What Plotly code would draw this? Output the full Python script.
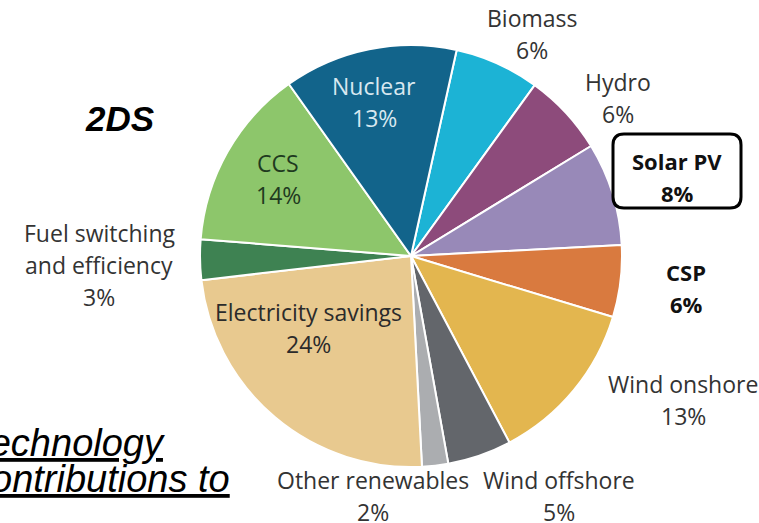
import plotly.graph_objects as go

W, H = 759, 523

# Datos (orden horario desde Biomass)
labels = ["Biomass", "Hydro", "Solar PV", "CSP", "Wind onshore", "Wind offshore",
          "Other renewables", "Electricity savings", "Fuel switching and efficiency",
          "CCS", "Nuclear"]
values = [6.5, 6.3, 7.9, 5.5, 12.6, 4.9, 2.0, 24.0, 3.1, 13.9, 13.3]
shown_pct = ["6%", "6%", "8%", "6%", "13%", "5%", "2%", "24%", "3%", "14%", "13%"]
colors = ["#1cb3d5", "#8d4b7b", "#9889b8", "#d97a3f", "#e3b64f", "#63666b",
          "#abadb0", "#e8c98f", "#3e8252", "#8dc66b", "#12648b"]

# Posición de las etiquetas (px) y estilo
label_pos = {
    "Biomass": (532, 18, "#333333", False),
    "Hydro": (618, 82, "#333333", False),
    "Solar PV": (677, 161, "#111111", True),
    "CSP": (686, 272, "#111111", True),
    "Wind onshore": (683, 384, "#333333", False),
    "Wind offshore": (559, 480, "#333333", False),
    "Other renewables": (373, 480, "#333333", False),
    "Electricity savings": (308, 312, "#2b2b2b", False),
    "Fuel switching and efficiency": (99, 233, "#333333", False),
    "CCS": (278, 163, "#1f3a1f", False),
    "Nuclear": (374, 86, "#d8e8f0", False),
}
LINE = 32
FONT = "Open Sans, Noto Sans, sans-serif"


def px(x):
    return x / W


def py(y):
    return 1 - y / H


fig = go.Figure(go.Pie(
    labels=labels,
    values=values,
    sort=False,
    direction="clockwise",
    rotation=12.5,
    marker=dict(colors=colors, line=dict(color="white", width=2)),
    textinfo="none",
    hoverinfo="label+percent",
    domain=dict(x=[px(199), px(623)], y=[py(467), py(45)]),
))

annotations = []
for lab, pct in zip(labels, shown_pct):
    x, y, col, bold = label_pos[lab]
    if lab == "Fuel switching and efficiency":
        lines = ["Fuel switching", "and efficiency", pct]
    else:
        lines = [lab, pct]
    for i, t in enumerate(lines):
        annotations.append(dict(
            x=px(x), y=py(y + i * LINE), xref="paper", yref="paper",
            text=f"<b>{t}</b>" if bold else t, showarrow=False,
            xanchor="center", yanchor="middle",
            font=dict(family=FONT, size=22 if bold else 23, color=col),
        ))

annotations.append(dict(
    x=px(119), y=py(118), xref="paper", yref="paper",
    text="<b><i>2DS</i></b>", showarrow=False, xanchor="center", yanchor="middle",
    font=dict(family="Liberation Sans, Arial, sans-serif", size=35, color="black"),
))
# título recortado por el borde izquierdo, como en la imagen original
annotations.append(dict(
    x=px(-32), y=py(443), xref="paper", yref="paper",
    text="<i><u>Technology</u></i>", showarrow=False, xanchor="left", yanchor="middle",
    font=dict(family="Liberation Sans, Arial, sans-serif", size=38, color="black"),
))
annotations.append(dict(
    x=px(-30), y=py(479), xref="paper", yref="paper",
    text="<i><u>contributions to</u></i>", showarrow=False, xanchor="left", yanchor="middle",
    font=dict(family="Liberation Sans, Arial, sans-serif", size=38, color="black"),
))

# Recuadro redondeado alrededor de Solar PV
x0, x1, y0, y1, r = 613, 741, 134, 208, 11
path = (f"M {px(x0 + r)},{py(y0)} L {px(x1 - r)},{py(y0)} "
        f"Q {px(x1)},{py(y0)} {px(x1)},{py(y0 + r)} "
        f"L {px(x1)},{py(y1 - r)} Q {px(x1)},{py(y1)} {px(x1 - r)},{py(y1)} "
        f"L {px(x0 + r)},{py(y1)} Q {px(x0)},{py(y1)} {px(x0)},{py(y1 - r)} "
        f"L {px(x0)},{py(y0 + r)} Q {px(x0)},{py(y0)} {px(x0 + r)},{py(y0)} Z")

fig.update_layout(
    width=W, height=H,
    margin=dict(l=0, r=0, t=0, b=0),
    paper_bgcolor="white", plot_bgcolor="white",
    showlegend=False,
    annotations=annotations,
    shapes=[dict(type="path", path=path, xref="paper", yref="paper",
                 line=dict(color="black", width=3))],
)

# quitar el margen por defecto del body para que la figura ocupe toda la ventana
fig.write_html("out.html", config={"displayModeBar": False},
               post_script="document.body.style.margin='0';")
